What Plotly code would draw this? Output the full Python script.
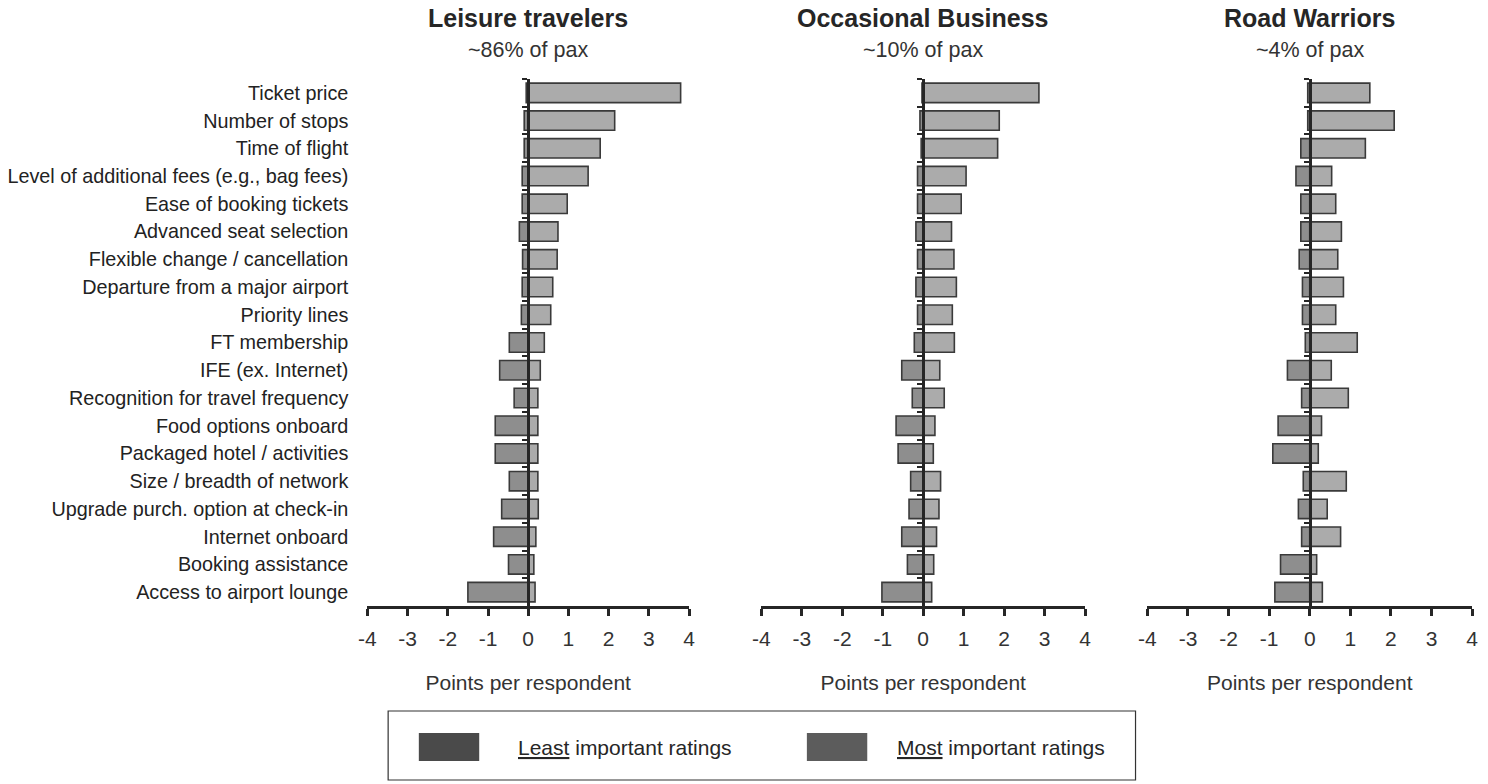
import plotly.graph_objects as go

W, H = 1488, 784
FONT = "Liberation Sans, Arial, sans-serif"

categories = [
    "Ticket price",
    "Number of stops",
    "Time of flight",
    "Level of additional fees (e.g., bag fees)",
    "Ease of booking tickets",
    "Advanced seat selection",
    "Flexible change / cancellation",
    "Departure from a major airport",
    "Priority lines",
    "FT membership",
    "IFE (ex. Internet)",
    "Recognition for travel frequency",
    "Food options onboard",
    "Packaged hotel / activities",
    "Size / breadth of network",
    "Upgrade purch. option at check-in",
    "Internet onboard",
    "Booking assistance",
    "Access to airport lounge",
]

segment_titles = ["Leisure travelers", "Occasional Business", "Road Warriors"]
segment_shares = ["~86% of pax", "~10% of pax", "~4% of pax"]

leisure_least = [-0.05, -0.10, -0.10, -0.15, -0.15, -0.22, -0.14, -0.15, -0.17, -0.47,
                 -0.71, -0.35, -0.82, -0.82, -0.47, -0.66, -0.86, -0.49, -1.50]
leisure_most = [3.79, 2.15, 1.79, 1.49, 0.97, 0.74, 0.72, 0.61, 0.56, 0.40,
                0.30, 0.24, 0.24, 0.24, 0.24, 0.25, 0.19, 0.14, 0.17]

business_least = [-0.03, -0.08, -0.05, -0.14, -0.14, -0.18, -0.14, -0.18, -0.14, -0.22,
                  -0.53, -0.27, -0.67, -0.62, -0.31, -0.35, -0.53, -0.39, -1.02]
business_most = [2.86, 1.88, 1.84, 1.06, 0.94, 0.70, 0.76, 0.82, 0.72, 0.77,
                 0.41, 0.52, 0.29, 0.25, 0.43, 0.39, 0.33, 0.26, 0.21]

warrior_least = [-0.05, -0.05, -0.22, -0.34, -0.22, -0.22, -0.26, -0.18, -0.18, -0.11,
                 -0.55, -0.20, -0.78, -0.91, -0.16, -0.28, -0.20, -0.72, -0.86]
warrior_most = [1.48, 2.08, 1.37, 0.54, 0.64, 0.78, 0.69, 0.83, 0.64, 1.17,
                0.53, 0.95, 0.29, 0.21, 0.90, 0.43, 0.76, 0.17, 0.31]

x_ticks = [-4, -3, -2, -1, 0, 1, 2, 3, 4]
x_title = "Points per respondent"
legend_labels = ["<u>Least</u> important ratings", "<u>Most</u> important ratings"]

segments = [
    (leisure_least, leisure_most),
    (business_least, business_most),
    (warrior_least, warrior_most),
]

LEAST_FILL = "#8e8e8e"
MOST_FILL = "#ababab"
OUTLINE = "#3a3a3a"


def px_x(v):
    return v / W


def px_y(v):
    return 1 - v / H


# horizontal extent of each panel (pixels) and shared vertical extent
panel_px = [(362, 687), (760, 1087), (1150, 1478)]
y_dom = [px_y(606), px_y(79)]
XMIN, XMAX = -4, 4

fig = go.Figure()

for i, (least, most) in enumerate(segments):
    n = "" if i == 0 else str(i + 1)
    fig.add_trace(go.Bar(
        y=categories, x=least, orientation="h", width=0.7,
        marker=dict(color=LEAST_FILL, line=dict(color=OUTLINE, width=1.6)),
        xaxis="x" + n, yaxis="y" + n, showlegend=False, hoverinfo="x+y",
    ))
    fig.add_trace(go.Bar(
        y=categories, x=most, orientation="h", width=0.7,
        marker=dict(color=MOST_FILL, line=dict(color=OUTLINE, width=1.6)),
        xaxis="x" + n, yaxis="y" + n, showlegend=False, hoverinfo="x+y",
    ))

# invisible carrier for the category labels on the left of the first panel
fig.add_trace(go.Scatter(
    x=[0] * len(categories), y=categories, mode="markers",
    marker=dict(opacity=0), xaxis="x", yaxis="y4",
    showlegend=False, hoverinfo="skip",
))

layout = dict(
    width=W, height=H,
    margin=dict(l=0, r=0, t=0, b=0),
    paper_bgcolor="white", plot_bgcolor="white",
    barmode="relative", bargap=0.3,
    font=dict(family=FONT, color="#222222"),
    showlegend=False,
)

for i, (a, b) in enumerate(panel_px):
    n = "" if i == 0 else str(i + 1)
    dom = [px_x(a), px_x(b)]
    zero_pos = dom[0] + (0 - XMIN) / (XMAX - XMIN) * (dom[1] - dom[0])
    layout["xaxis" + n] = dict(
        domain=dom, anchor="y" + n, range=[XMIN, XMAX],
        tickmode="array", tickvals=x_ticks, ticktext=[str(t) for t in x_ticks],
        showline=True, linewidth=3, linecolor="#262626",
        ticks="outside", ticklen=7, tickwidth=2.5, tickcolor="#262626",
        ticklabelstandoff=5,
        showgrid=False, zeroline=False,
        tickfont=dict(size=21, color="#333333", family=FONT),
        title=dict(text=x_title, font=dict(size=21, color="#333333", family=FONT),
                   standoff=27),
        fixedrange=True,
    )
    layout["yaxis" + n] = dict(
        domain=y_dom, anchor="free", position=zero_pos,
        type="category", categoryorder="array", categoryarray=categories,
        range=[len(categories) - 0.5, -0.5],
        showline=True, linewidth=3, linecolor="#262626",
        ticks="outside", tickson="boundaries", ticklen=5, tickwidth=2,
        tickcolor="#262626", showticklabels=False, showgrid=False,
        zeroline=False, fixedrange=True,
    )

layout["yaxis4"] = dict(
    overlaying="y", anchor="x", side="left",
    type="category", categoryorder="array", categoryarray=categories,
    range=[len(categories) - 0.5, -0.5],
    showline=False, ticks="", showgrid=False, zeroline=False,
    ticklabelstandoff=18,
    tickfont=dict(size=19.8, color="#222222", family=FONT),
    fixedrange=True,
)

fig.update_layout(**layout)

# panel headings
annotations = []
for (a, b), title, share in zip(panel_px, segment_titles, segment_shares):
    cx = px_x((a + b) / 2)
    annotations.append(dict(
        x=cx, y=px_y(18), xref="paper", yref="paper", showarrow=False,
        text="<b>" + title + "</b>", xanchor="center", yanchor="middle",
        font=dict(size=25, color="#262626", family=FONT),
    ))
    annotations.append(dict(
        x=cx, y=px_y(50), xref="paper", yref="paper", showarrow=False,
        text=share, xanchor="center", yanchor="middle",
        font=dict(size=21.5, color="#333333", family=FONT),
    ))

# key box below the panels
shapes = [dict(
    type="rect", xref="paper", yref="paper",
    x0=px_x(383), x1=px_x(1138), y0=px_y(780), y1=px_y(711),
    line=dict(color="#333333", width=1.2), fillcolor="white",
)]
swatches = [(414, 475, "#4a4a4a", 512), (806, 867, "#5c5c5c", 895)]
for (s0, s1, col, tx), label in zip(swatches, legend_labels):
    shapes.append(dict(
        type="rect", xref="paper", yref="paper",
        x0=px_x(s0), x1=px_x(s1), y0=px_y(761), y1=px_y(733),
        line=dict(color=col, width=0), fillcolor=col,
    ))
    annotations.append(dict(
        x=px_x(tx), y=px_y(747), xref="paper", yref="paper", showarrow=False,
        text=label, xanchor="left", yanchor="middle",
        font=dict(size=21, color="#262626", family=FONT),
    ))

fig.update_layout(annotations=annotations, shapes=shapes)

fig.write_html("out.html")
